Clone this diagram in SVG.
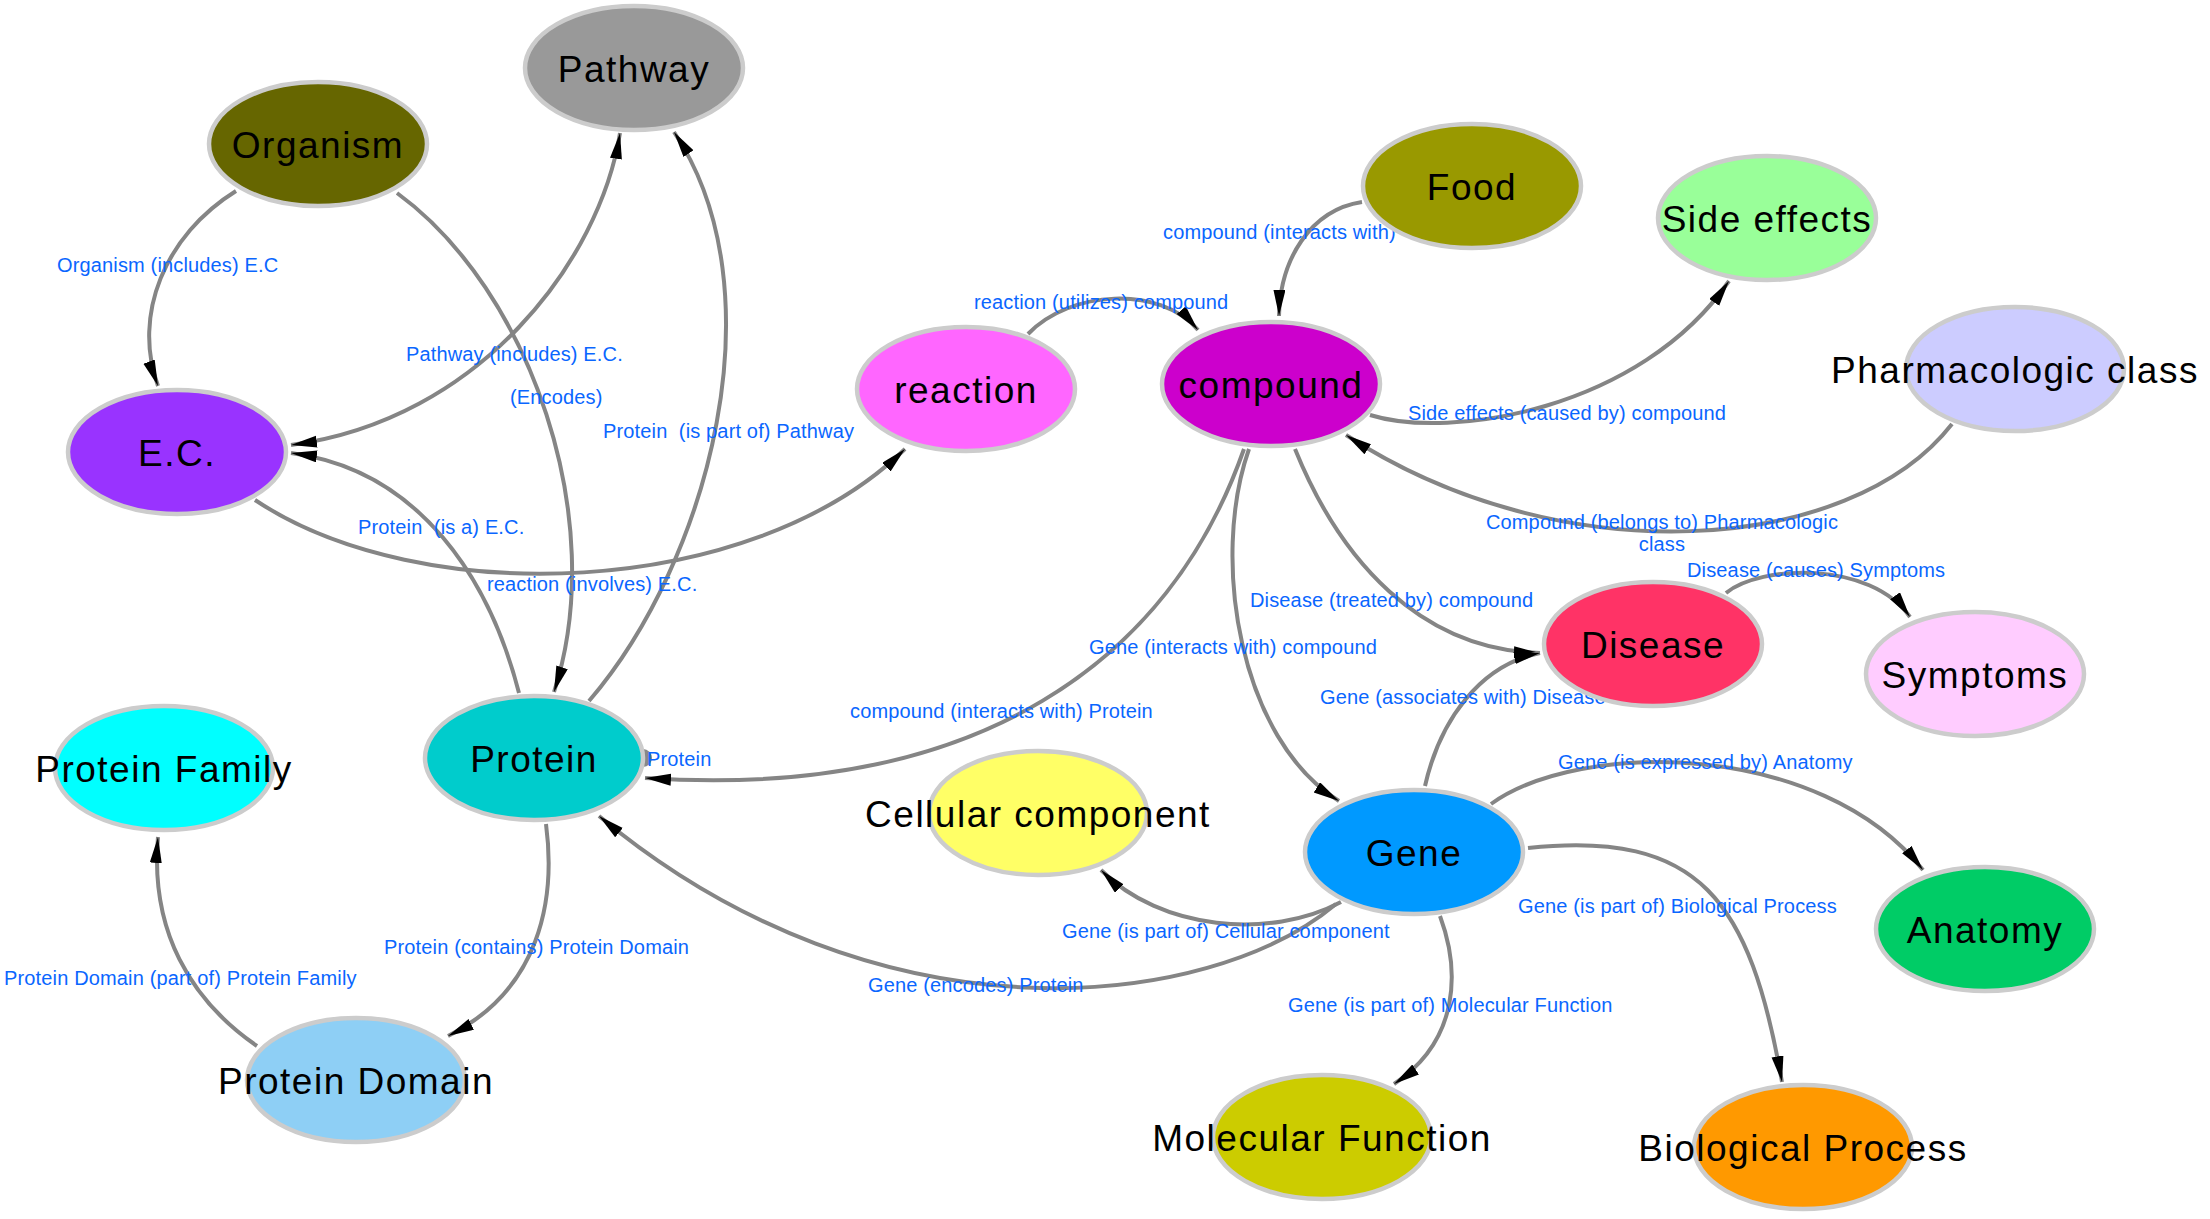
<svg xmlns="http://www.w3.org/2000/svg" width="2210" height="1219" viewBox="0 0 2210 1219">
<style>
.node ellipse{stroke:#cccccc;stroke-width:4.5}
.node text{font-family:"Liberation Sans",Arial,sans-serif;font-size:37px;letter-spacing:1.5px;fill:#000;text-anchor:middle}
.edge{fill:none;stroke:#858585;stroke-width:4;marker-end:url(#arr)}
.lbl{font-family:"Liberation Sans",Arial,sans-serif;font-size:20px;letter-spacing:0.15px;fill:#0a66ff}
</style>
<defs>
<marker id="arr" markerUnits="userSpaceOnUse" markerWidth="28" markerHeight="13" refX="26" refY="6" orient="auto-start-reverse" viewBox="0 0 28 13">
<path d="M0,0 L26,6 L0,12 z" fill="#000"/>
</marker>
</defs>
<rect width="2210" height="1219" fill="#fff"/>
<g id="connectors">
<path class="edge" d="M236,191 C165,235 132,315 158,386"/>
<path class="edge" style="marker-start:url(#arr)" d="M620,133 C600,260 480,420 291,445"/>
<path class="edge" d="M397,193 C530,290 610,520 554,692"/>
<path class="edge" d="M589,701 C710,560 780,290 674,132"/>
<path class="edge" d="M519,693 C490,580 420,470 291,453"/>
<path class="edge" d="M255,500 C420,610 750,600 905,449"/>
<path class="edge" d="M1028,334 C1070,290 1160,285 1198,330"/>
<path class="edge" d="M1362,202 C1310,210 1280,260 1279,316"/>
<path class="edge" d="M1370,415 C1450,440 1640,410 1729,281"/>
<path class="edge" d="M1952,424 C1850,555 1560,575 1346,435"/>
<path class="edge" d="M1295,449 C1340,560 1420,650 1540,653"/>
<path class="edge" d="M1425,786 C1440,720 1480,665 1540,653"/>
<path class="edge" d="M1249,449 C1210,560 1240,740 1339,801"/>
<path class="edge" d="M1244,449 C1170,660 980,800 645,778"/>
<path class="edge" d="M1341,902 C1270,940 1160,930 1101,870"/>
<path class="edge" d="M1336,904 C1210,1010 880,1050 599,816"/>
<path class="edge" d="M1440,916 C1460,970 1460,1040 1394,1084"/>
<path class="edge" d="M1491,804 C1580,740 1820,740 1923,870"/>
<path class="edge" d="M1528,848 C1700,830 1750,900 1782,1082"/>
<path class="edge" d="M1726,593 C1760,565 1870,560 1910,617"/>
<path class="edge" d="M546,824 C556,900 540,990 448,1036"/>
<path class="edge" d="M257,1046 C190,1000 150,930 158,837"/>
<path d="M643,749 A9,9 0 0 1 643,767 Z" fill="#888888"/>
</g>
<g id="edge-labels">
<text class="lbl" x="57" y="272">Organism (includes) E.C</text>
<text class="lbl" x="406" y="361">Pathway (includes) E.C.</text>
<text class="lbl" x="510" y="404">(Encodes)</text>
<text class="lbl" x="603" y="438" xml:space="preserve">Protein  (is part of) Pathway</text>
<text class="lbl" x="358" y="534" xml:space="preserve">Protein  (is a) E.C.</text>
<text class="lbl" x="487" y="591">reaction (involves) E.C.</text>
<text class="lbl" x="974" y="309">reaction (utilizes) compound</text>
<text class="lbl" x="1163" y="239">compound (interacts with)</text>
<text class="lbl" x="1408" y="420">Side effects (caused by) compound</text>
<text class="lbl" x="1662" y="529" text-anchor="middle">Compound (belongs to) Pharmacologic</text>
<text class="lbl" x="1662" y="551" text-anchor="middle">class</text>
<text class="lbl" x="1250" y="607">Disease (treated by) compound</text>
<text class="lbl" x="1320" y="704">Gene (associates with) Disease</text>
<text class="lbl" x="1089" y="654">Gene (interacts with) compound</text>
<text class="lbl" x="850" y="718">compound (interacts with) Protein</text>
<text class="lbl" x="647" y="766">Protein</text>
<text class="lbl" x="1062" y="938">Gene (is part of) Cellular component</text>
<text class="lbl" x="868" y="992">Gene (encodes) Protein</text>
<text class="lbl" x="1288" y="1012">Gene (is part of) Molecular Function</text>
<text class="lbl" x="1558" y="769">Gene (is expressed by) Anatomy</text>
<text class="lbl" x="1518" y="913">Gene (is part of) Biological Process</text>
<text class="lbl" x="1687" y="577">Disease (causes) Symptoms</text>
<text class="lbl" x="384" y="954">Protein (contains) Protein Domain</text>
<text class="lbl" x="4" y="985">Protein Domain (part of) Protein Family</text>
</g>
<g id="node-pathway" class="node"><ellipse cx="634" cy="68" rx="109" ry="62" fill="#999999"/><text x="634" y="82">Pathway</text></g>
<g id="node-organism" class="node"><ellipse cx="318" cy="144" rx="109" ry="62" fill="#666600"/><text x="318" y="158">Organism</text></g>
<g id="node-ec" class="node"><ellipse cx="177" cy="452" rx="109" ry="62" fill="#9933ff"/><text x="177" y="466">E.C.</text></g>
<g id="node-reaction" class="node"><ellipse cx="966" cy="389" rx="109" ry="62" fill="#ff66ff"/><text x="966" y="403">reaction</text></g>
<g id="node-compound" class="node"><ellipse cx="1271" cy="384" rx="109" ry="62" fill="#cc00cc"/><text x="1271" y="398">compound</text></g>
<g id="node-food" class="node"><ellipse cx="1472" cy="186" rx="109" ry="62" fill="#999900"/><text x="1472" y="200">Food</text></g>
<g id="node-side-effects" class="node"><ellipse cx="1767" cy="218" rx="109" ry="62" fill="#99ff99"/><text x="1767" y="232">Side effects</text></g>
<g id="node-pharmacologic-class" class="node"><ellipse cx="2015" cy="369" rx="109" ry="62" fill="#ccccff"/><text x="2015" y="383">Pharmacologic class</text></g>
<g id="node-disease" class="node"><ellipse cx="1653" cy="644" rx="109" ry="62" fill="#ff3366"/><text x="1653" y="658">Disease</text></g>
<g id="node-symptoms" class="node"><ellipse cx="1975" cy="674" rx="109" ry="62" fill="#ffccff"/><text x="1975" y="688">Symptoms</text></g>
<g id="node-anatomy" class="node"><ellipse cx="1985" cy="929" rx="109" ry="62" fill="#00cc66"/><text x="1985" y="943">Anatomy</text></g>
<g id="node-biological-process" class="node"><ellipse cx="1803" cy="1147" rx="109" ry="62" fill="#ff9900"/><text x="1803" y="1161">Biological Process</text></g>
<g id="node-gene" class="node"><ellipse cx="1414" cy="852" rx="109" ry="62" fill="#0099ff"/><text x="1414" y="866">Gene</text></g>
<g id="node-molecular-function" class="node"><ellipse cx="1322" cy="1137" rx="109" ry="62" fill="#cccc00"/><text x="1322" y="1151">Molecular Function</text></g>
<g id="node-cellular-component" class="node"><ellipse cx="1038" cy="813" rx="109" ry="62" fill="#ffff66"/><text x="1038" y="827">Cellular component</text></g>
<g id="node-protein" class="node"><ellipse cx="534" cy="758" rx="109" ry="62" fill="#00cccc"/><text x="534" y="772">Protein</text></g>
<g id="node-protein-family" class="node"><ellipse cx="164" cy="768" rx="109" ry="62" fill="#00ffff"/><text x="164" y="782">Protein Family</text></g>
<g id="node-protein-domain" class="node"><ellipse cx="356" cy="1080" rx="109" ry="62" fill="#8ecff5"/><text x="356" y="1094">Protein Domain</text></g>
</svg>
